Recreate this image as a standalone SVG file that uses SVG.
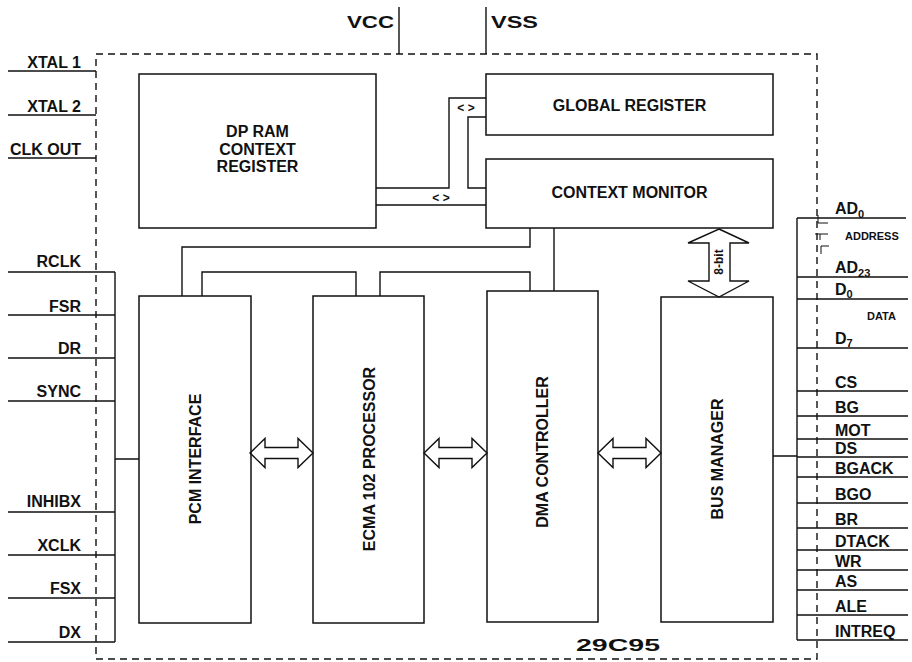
<svg xmlns="http://www.w3.org/2000/svg" width="912" height="662" viewBox="0 0 912 662">
<style>
.box{fill:none;stroke:#111;stroke-width:1.5}
.ln{fill:none;stroke:#111;stroke-width:1.4}
.thin{fill:none;stroke:#111;stroke-width:1}
.dash{fill:none;stroke:#111;stroke-width:1.4;stroke-dasharray:7 5}
.arr{fill:#fff;stroke:#111;stroke-width:1.4;stroke-linejoin:miter}
text{font-family:"Liberation Sans",Arial,sans-serif;font-weight:bold;font-size:16px;fill:#111}
.r{text-anchor:end}
.m{text-anchor:middle}
.s{font-size:11px}
.sub{font-size:11px}
</style>
<defs>
<path id="harrow" d="M0,0 L15,-14.5 L15,-5.5 L48,-5.5 L48,-14.5 L63,0 L48,14.5 L48,5.5 L15,5.5 L15,14.5 Z"/>
</defs>
<rect width="912" height="662" fill="#fff"/>

<!-- chip outline -->
<g id="chip">
<rect class="dash" x="96" y="54" width="721" height="605"/>
<text x="576" y="651" textLength="84" lengthAdjust="spacingAndGlyphs">29C95</text>
</g>

<!-- connectors -->
<g id="connectors">
<path class="ln" d="M399,7 V54 M486,7 V54"/>
<path class="ln" d="M8,71 H96 M8,115 H96 M8,158 H96"/>
<path class="ln" d="M8,272 H115 M8,315 H115 M8,358 H115 M8,401 H115 M8,512 H115 M8,555 H115 M8,598 H115 M8,642 H115 M115,272 V642 M115,459 H139"/>
<path class="ln" d="M376,188 H449 V98 H486 M486,117 H468 V188 H486 M376,205 H486"/>
<path class="ln" d="M182,296 V247 H530 V228 M202,296 V272 H356 V296 M380,296 V272 H530 V291 M554,228 V291"/>
<path class="ln" d="M773,456 H797 M797,218 V640"/>
<path class="ln" d="M797,218 H906 M797,277 H908 M797,299 H908 M797,348 H908 M797,391 H908 M797,416 H908 M797,439 H908 M797,457 H908 M797,477 H908 M797,503 H908 M797,528 H908 M797,550 H908 M797,570 H908 M797,590 H908 M797,615 H908 M797,640 H908"/>
<path class="thin" d="M818,215 V223 H828 M815,234 H828 M820,234 V240 M829,246 H821 V254"/>
<path class="arr" d="M719,229 L749,243 L730,243 L730,281 L749,281 L719,297 L688,281 L709,281 L709,243 L688,243 Z"/>
<use href="#harrow" class="arr" x="250" y="453"/>
<use href="#harrow" class="arr" x="424" y="453"/>
<use href="#harrow" class="arr" x="598" y="453"/>
<text x="466" y="112" class="m" style="font-size:12px">&lt; &gt;</text>
<text x="441" y="202" class="m" style="font-size:12px">&lt; &gt;</text>
<text transform="translate(723,262) rotate(-90)" class="m" style="font-size:12px">8-bit</text>
</g>

<!-- pins -->
<g id="pins">
<text x="347" y="28" textLength="47" lengthAdjust="spacingAndGlyphs">VCC</text>
<text x="491" y="28" textLength="47" lengthAdjust="spacingAndGlyphs">VSS</text>
<text x="81" y="68" class="r">XTAL 1</text>
<text x="81" y="112" class="r">XTAL 2</text>
<text x="81" y="155" class="r">CLK OUT</text>
<text x="81" y="267" class="r">RCLK</text>
<text x="81" y="312" class="r">FSR</text>
<text x="81" y="354" class="r">DR</text>
<text x="81" y="397" class="r">SYNC</text>
<text x="81" y="507" class="r">INHIBX</text>
<text x="81" y="551" class="r">XCLK</text>
<text x="81" y="594" class="r">FSX</text>
<text x="81" y="638" class="r">DX</text>
<text x="835" y="214">AD<tspan class="sub" dy="4">0</tspan></text>
<text x="845" y="240" class="s">ADDRESS</text>
<text x="835" y="273">AD<tspan class="sub" dy="4">23</tspan></text>
<text x="835" y="295">D<tspan class="sub" dy="3">0</tspan></text>
<text x="867" y="320" class="s">DATA</text>
<text x="835" y="344">D<tspan class="sub" dy="3">7</tspan></text>
<text x="835" y="388">CS</text>
<text x="835" y="413">BG</text>
<text x="835" y="436">MOT</text>
<text x="835" y="454">DS</text>
<text x="835" y="474">BGACK</text>
<text x="835" y="500">BGO</text>
<text x="835" y="525">BR</text>
<text x="835" y="547">DTACK</text>
<text x="835" y="567">WR</text>
<text x="835" y="587">AS</text>
<text x="835" y="612">ALE</text>
<text x="835" y="637">INTREQ</text>
</g>

<g id="dpram">
<rect class="box" x="139" y="74" width="237" height="154"/>
<text x="257.5" y="137" class="m">DP RAM</text>
<text x="257.5" y="155" class="m">CONTEXT</text>
<text x="257.5" y="172" class="m">REGISTER</text>
</g>
<g id="global-register">
<rect class="box" x="486" y="74" width="287" height="61"/>
<text x="629.5" y="111" class="m">GLOBAL REGISTER</text>
</g>
<g id="context-monitor">
<rect class="box" x="486" y="159" width="287" height="69"/>
<text x="629.5" y="198" class="m">CONTEXT MONITOR</text>
</g>
<g id="pcm-interface">
<rect class="box" x="139" y="296" width="112" height="327"/>
<text transform="translate(201,459) rotate(-90)" class="m">PCM INTERFACE</text>
</g>
<g id="ecma-processor">
<rect class="box" x="313" y="296" width="111" height="327"/>
<text transform="translate(375,459) rotate(-90)" class="m">ECMA 102 PROCESSOR</text>
</g>
<g id="dma-controller">
<rect class="box" x="487" y="291" width="111" height="331"/>
<text transform="translate(548,452) rotate(-90)" class="m">DMA CONTROLLER</text>
</g>
<g id="bus-manager">
<rect class="box" x="661" y="297" width="112" height="325"/>
<text transform="translate(723,459) rotate(-90)" class="m">BUS MANAGER</text>
</g>
</svg>
